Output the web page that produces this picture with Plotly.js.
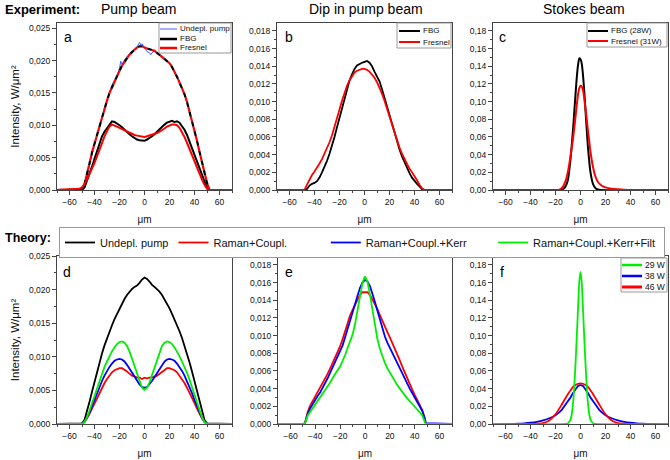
<!DOCTYPE html>
<html><head><meta charset="utf-8">
<script src="https://cdn.plot.ly/plotly-3.0.1.min.js"></script>
<style>html,body{margin:0;padding:0;background:#fff}#chart{width:670px;height:460px}</style>
</head><body><div id="chart"></div>
<script>
// ---------- Data (x in µm, y in W/µm²) ----------
// Panel a: Experiment, pump beam
const xA = [-70,-52,-50,-48,-46,-44,-42,-40,-38,-36,-34,-32,-30,-28,-26,-24,-22,-20,-18,-16,-14,-12,-10,-8,-6,-4,-2,0,2,4,6,8,10,12,14,16,18,20,22,24,26,28,30,32,34,36,38,40,42,44,46,48,50,52,70];
const yA_undeplDash = [0,0,0.0001,0.0009,0.0023,0.0041,0.0058,0.0072,0.0086,0.0100,0.0113,0.0126,0.0138,0.0150,0.0159,0.0168,0.0176,0.0184,0.0192,0.0198,0.0204,0.0209,0.0213,0.0217,0.0220,0.0222,0.0222,0.0220,0.0219,0.0218,0.0217,0.0215,0.0212,0.0209,0.0206,0.0202,0.0199,0.0196,0.0190,0.0183,0.0175,0.0166,0.0157,0.0148,0.0136,0.0122,0.0107,0.0092,0.0076,0.0059,0.0042,0.0026,0.0011,0,0];
const yA_fbg = [0,0,0,0.0004,0.0014,0.0026,0.0036,0.0048,0.0060,0.0073,0.0083,0.0090,0.0096,0.0102,0.0106,0.0105,0.0103,0.0100,0.0097,0.0093,0.0090,0.0086,0.0083,0.0080,0.0078,0.0077,0.0077,0.0076,0.0078,0.0080,0.0083,0.0086,0.0090,0.0094,0.0098,0.0101,0.0104,0.0105,0.0107,0.0105,0.0106,0.0104,0.0099,0.0093,0.0085,0.0075,0.0065,0.0055,0.0044,0.0033,0.0022,0.0012,0.0003,0,0];
const yA_fresnel = [0,0.0002,0.0004,0.0009,0.0016,0.0024,0.0033,0.0042,0.0052,0.0063,0.0073,0.0083,0.0091,0.0098,0.0101,0.0100,0.0098,0.0096,0.0094,0.0092,0.0090,0.0088,0.0086,0.0085,0.0084,0.0083,0.0083,0.0082,0.0083,0.0084,0.0085,0.0086,0.0088,0.0090,0.0092,0.0095,0.0098,0.0100,0.0101,0.0101,0.0100,0.0096,0.0090,0.0082,0.0073,0.0063,0.0053,0.0043,0.0034,0.0025,0.0016,0.0008,0.0002,0,0];
const xA_undepl = [-70,-50,-48,-46,-44,-42,-40,-38,-36,-34,-32,-30,-28,-26,-24,-22,-20,-19,-18,-17,-16,-14,-12,-10,-8,-6,-5,-4,-3,-2,0,2,4,5,6,8,10,12,14,16,18,20,22,24,26,28,30,32,34,36,38,40,42,44,46,48,50,52,70];
const yA_undepl = [0,0,0.0006,0.0020,0.0038,0.0056,0.0071,0.0086,0.0101,0.0114,0.0127,0.0139,0.0151,0.0162,0.0170,0.0177,0.0188,0.0199,0.0194,0.0198,0.0201,0.0206,0.0210,0.0215,0.0218,0.0221,0.0224,0.0228,0.0224,0.0226,0.0220,0.0214,0.0212,0.0209,0.0212,0.0215,0.0211,0.0209,0.0206,0.0202,0.0199,0.0196,0.0190,0.0183,0.0175,0.0166,0.0157,0.0148,0.0136,0.0122,0.0107,0.0092,0.0076,0.0059,0.0042,0.0026,0.0011,0,0];
const namesA = ['Undepl. pump','FBG','Fresnel'];

// Panel b: Experiment, dip in pump beam
const xB = [-70,-48,-46,-44,-42,-40,-38,-36,-34,-32,-30,-28,-26,-24,-22,-20,-18,-16,-14,-12,-10,-8,-6,-4,-2,0,2,4,6,8,10,12,14,16,18,20,22,24,26,28,30,32,34,36,38,40,42,44,46,48,70];
const yB_fbg = [0,0,0.0001,0.0005,0.0007,0.0008,0.0010,0.0014,0.0020,0.0026,0.0033,0.0041,0.0050,0.0060,0.0071,0.0082,0.0093,0.0104,0.0115,0.0124,0.0131,0.0137,0.0141,0.0143,0.0144,0.0145,0.0146,0.0144,0.0140,0.0134,0.0129,0.0123,0.0114,0.0104,0.0093,0.0083,0.0073,0.0063,0.0054,0.0046,0.0038,0.0031,0.0025,0.0019,0.0014,0.0010,0.0007,0.0004,0.0001,0,0];
const yB_fresnel = [0,0,0.0006,0.0012,0.0017,0.0021,0.0025,0.0030,0.0035,0.0041,0.0047,0.0054,0.0062,0.0071,0.0081,0.0091,0.0101,0.0110,0.0118,0.0124,0.0129,0.0133,0.0135,0.0136,0.0137,0.0137,0.0136,0.0134,0.0131,0.0127,0.0122,0.0116,0.0109,0.0101,0.0092,0.0083,0.0074,0.0065,0.0056,0.0048,0.0041,0.0035,0.0029,0.0024,0.0020,0.0016,0.0011,0.0006,0.0002,0,0];
const namesB = ['FBG','Fresnel'];

// Panel c: Experiment, Stokes beam
const xC_fbg = [-70,-16,-14,-12,-10,-8,-6,-5,-4,-3,-2,-1,0,1,2,3,4,5,6,8,10,12,14,16,70];
const yC_fbg = [0,0,0.001,0.004,0.012,0.035,0.068,0.088,0.108,0.127,0.141,0.149,0.148,0.143,0.130,0.112,0.090,0.068,0.048,0.020,0.007,0.002,0.0005,0,0];
const xC_fresnel = [-70,-18,-16,-14,-12,-10,-8,-6,-5,-4,-3,-2,-1,0,1,2,3,4,5,6,7,8,10,12,14,16,18,20,25,30,35,40,70];
const yC_fresnel = [0,0,0.001,0.004,0.010,0.021,0.038,0.058,0.070,0.083,0.096,0.108,0.115,0.118,0.117,0.113,0.104,0.092,0.080,0.067,0.055,0.043,0.026,0.015,0.009,0.006,0.004,0.003,0.0015,0.0008,0.0003,0,0];
const namesC = ['FBG (28W)','Fresnel (31W)'];

// Panel d: Theory, pump beam
const xD = [-70,-50,-48,-46,-44,-42,-40,-38,-36,-34,-32,-30,-28,-26,-24,-22,-20,-18,-16,-14,-12,-10,-8,-6,-4,-2,0,2,4,6,8,10,12,14,16,18,20,22,24,26,28,30,32,34,36,38,40,42,44,46,48,50,70];
const yD_undepl = [0,0.0001,0.0006,0.0018,0.0033,0.0048,0.0063,0.0078,0.0092,0.0105,0.0117,0.0128,0.0138,0.0147,0.0156,0.0164,0.0172,0.0179,0.0186,0.0192,0.0197,0.0201,0.0204,0.0206,0.0210,0.0215,0.0218,0.0216,0.0212,0.0207,0.0204,0.0201,0.0197,0.0192,0.0186,0.0179,0.0172,0.0164,0.0156,0.0147,0.0138,0.0128,0.0117,0.0105,0.0092,0.0078,0.0063,0.0048,0.0033,0.0018,0.0006,0.0001,0];
const yD_raman = [0,0,0.0003,0.0008,0.0015,0.0023,0.0031,0.0039,0.0047,0.0054,0.0061,0.0067,0.0072,0.0077,0.0080,0.0082,0.0083,0.0083,0.0081,0.0078,0.0075,0.0072,0.0071,0.0069,0.0069,0.0067,0.0069,0.0068,0.0069,0.0069,0.0070,0.0072,0.0075,0.0078,0.0081,0.0083,0.0083,0.0082,0.0080,0.0077,0.0072,0.0067,0.0061,0.0054,0.0047,0.0039,0.0031,0.0023,0.0015,0.0008,0.0003,0,0];
const yD_kerr = [0,0,0.0003,0.0009,0.0017,0.0026,0.0036,0.0046,0.0056,0.0064,0.0072,0.0079,0.0085,0.0090,0.0094,0.0096,0.0097,0.0096,0.0093,0.0088,0.0082,0.0076,0.0070,0.0064,0.0059,0.0055,0.0054,0.0055,0.0059,0.0064,0.0070,0.0076,0.0082,0.0088,0.0093,0.0096,0.0097,0.0096,0.0094,0.0090,0.0085,0.0079,0.0072,0.0064,0.0056,0.0046,0.0036,0.0026,0.0017,0.0009,0.0003,0,0];
const yD_filt = [0,0,0.0003,0.0010,0.0020,0.0031,0.0043,0.0055,0.0066,0.0076,0.0085,0.0093,0.0101,0.0108,0.0114,0.0119,0.0122,0.0123,0.0121,0.0116,0.0108,0.0097,0.0085,0.0073,0.0062,0.0054,0.0051,0.0054,0.0062,0.0073,0.0085,0.0097,0.0108,0.0116,0.0121,0.0123,0.0122,0.0119,0.0114,0.0108,0.0101,0.0093,0.0085,0.0076,0.0066,0.0055,0.0043,0.0031,0.0020,0.0010,0.0003,0,0];
const namesTheory = ['Undepl. pump','Raman+Coupl.','Raman+Coupl.+Kerr','Raman+Coupl.+Kerr+Filt'];

// Panel e: Theory, dip in pump beam
const xE = [-70,-49,-48,-46,-44,-42,-40,-38,-36,-34,-32,-30,-28,-26,-24,-22,-20,-18,-16,-14,-12,-10,-8,-6,-4,-2,0,2,4,6,8,10,12,14,16,18,20,22,24,26,28,30,32,34,36,38,40,42,44,46,48,49,70];
const yE_raman = [0,0,0.0003,0.0014,0.0021,0.0026,0.0031,0.0036,0.0041,0.0046,0.0051,0.0057,0.0063,0.0069,0.0076,0.0082,0.0088,0.0096,0.0106,0.0116,0.0123,0.0129,0.0135,0.0141,0.0146,0.0149,0.0149,0.0149,0.0146,0.0141,0.0135,0.0130,0.0123,0.0116,0.0110,0.0104,0.0098,0.0092,0.0085,0.0078,0.0072,0.0065,0.0058,0.0052,0.0045,0.0039,0.0033,0.0027,0.0022,0.0016,0.0006,0,0];
const yE_kerr = [0,0,0.0002,0.0012,0.0018,0.0023,0.0027,0.0032,0.0036,0.0041,0.0046,0.0052,0.0058,0.0064,0.0070,0.0076,0.0082,0.0089,0.0098,0.0108,0.0118,0.0127,0.0136,0.0145,0.0154,0.0160,0.0163,0.0161,0.0156,0.0148,0.0138,0.0128,0.0118,0.0108,0.0099,0.0092,0.0086,0.0080,0.0074,0.0068,0.0062,0.0057,0.0051,0.0046,0.0040,0.0035,0.0030,0.0025,0.0020,0.0015,0.0007,0.0001,0];
const yE_filt = [0,0,0.0002,0.0010,0.0014,0.0018,0.0022,0.0026,0.0030,0.0034,0.0038,0.0042,0.0047,0.0052,0.0057,0.0061,0.0065,0.0071,0.0078,0.0086,0.0093,0.0101,0.0113,0.0128,0.0145,0.0160,0.0167,0.0161,0.0146,0.0128,0.0110,0.0096,0.0085,0.0076,0.0069,0.0063,0.0058,0.0053,0.0048,0.0044,0.0040,0.0036,0.0032,0.0029,0.0026,0.0023,0.0020,0.0017,0.0014,0.0010,0.0003,0,0];

// Panel f: Theory, Stokes beam
const xF_29 = [-70,-12,-10,-8,-7,-6,-5,-4,-3,-2,-1,0,1,2,3,4,5,6,7,8,10,12,70];
const yF_29 = [0,0,0.001,0.005,0.011,0.023,0.042,0.068,0.098,0.130,0.160,0.172,0.160,0.130,0.098,0.068,0.042,0.023,0.011,0.005,0.001,0,0];
const xF_38 = [-70,-55,-50,-45,-40,-35,-30,-25,-20,-15,-10,-8,-6,-4,-2,0,2,4,6,8,10,15,20,25,30,35,40,45,50,55,70];
const yF_38 = [0,0,0.0003,0.0008,0.0015,0.0025,0.004,0.0065,0.010,0.016,0.026,0.030,0.035,0.039,0.043,0.044,0.043,0.039,0.035,0.030,0.026,0.016,0.010,0.0065,0.004,0.0025,0.0015,0.0008,0.0003,0,0];
const xF_46 = [-70,-40,-35,-30,-25,-20,-15,-10,-8,-6,-4,-2,0,2,4,6,8,10,15,20,25,30,35,40,70];
const yF_46 = [0,0,0.0003,0.001,0.004,0.011,0.022,0.034,0.038,0.042,0.044,0.0455,0.046,0.0455,0.044,0.042,0.038,0.034,0.022,0.011,0.004,0.001,0.0003,0,0];
const namesF = ['29 W','38 W','46 W'];

const panelTitles = ['Pump beam','Dip in pump beam','Stokes beam'];
const rowTitles = ['Experiment:','Theory:'];
const panelLetters = ['a','b','c','d','e','f'];
const xTitle = 'μm';
const yTitle = 'Intensity, W/μm²';

// ---------- Layout helpers ----------
const W = 670, H = 460;
const FONT = 'Liberation Sans, Arial, Helvetica, sans-serif';
const px = v => v / W;
const py = v => 1 - v / H;
const BLACK = '#000000', RED = '#ff0000', BLUE = '#0000ff', GREEN = '#00ee00', LBLUE = '#4a5cff';
const NB = n => '\u00A0'.repeat(n);   // spacing for the horizontal theory legend

function xAxis(d0, d1, anchor) {
  return {
    domain: [px(d0), px(d1)], anchor: anchor, range: [-70, 70], tick0: 0, dtick: 20,
    ticks: 'outside', ticklen: 4, tickwidth: 1, tickcolor: '#444',
    minor: {dtick: 10, tick0: 0, ticks: 'outside', ticklen: 2, tickwidth: 1, tickcolor: '#444'},
    showline: true, linecolor: '#444', linewidth: 1, mirror: true,
    showgrid: false, zeroline: false,
    tickfont: {size: 8.5, color: '#111', family: FONT},
    title: {text: xTitle, font: {size: 10, color: '#111', family: FONT}, standoff: 9}
  };
}
function yAxis(top, bottom, anchor, max, dtick, fmt, withTitle) {
  const a = {
    domain: [py(bottom), py(top)], anchor: anchor, range: [0, max], tick0: 0, dtick: dtick,
    tickformat: fmt,
    ticks: 'outside', ticklen: 4, tickwidth: 1, tickcolor: '#444',
    minor: {dtick: dtick / 2, tick0: 0, ticks: 'outside', ticklen: 2, tickwidth: 1, tickcolor: '#444'},
    showline: true, linecolor: '#444', linewidth: 1, mirror: true,
    showgrid: false, zeroline: false,
    tickfont: {size: 8.5, color: '#111', family: FONT}
  };
  if (withTitle) a.title = {text: yTitle, font: {size: 11.5, color: '#111', family: FONT}, standoff: 6};
  return a;
}

const traces = [];
function line(x, y, xa, ya, color, width, extra) {
  const t = Object.assign({x: x, y: y, xaxis: xa, yaxis: ya, mode: 'lines',
    line: {color: color, width: width}, showlegend: false, hoverinfo: 'skip'}, extra || {});
  traces.push(t);
}

// Panel a
line(xA_undepl, yA_undepl, 'x', 'y', LBLUE, 1, {name: namesA[0]});
line(xA, yA_undeplDash, 'x', 'y', BLACK, 2, {line: {color: BLACK, width: 2.2, dash: '5px,5px'}});
line(xA, yA_undeplDash, 'x', 'y', RED, 2, {line: {color: RED, width: 2.2, dash: '0px,5px,5px,0px'}});
line(xA, yA_fbg, 'x', 'y', BLACK, 2, {name: namesA[1]});
line(xA, yA_fresnel, 'x', 'y', RED, 2, {name: namesA[2]});
// Panel b
line(xB, yB_fbg, 'x2', 'y2', BLACK, 1.8, {name: namesB[0]});
line(xB, yB_fresnel, 'x2', 'y2', RED, 1.8, {name: namesB[1]});
// Panel c
line(xC_fbg, yC_fbg, 'x3', 'y3', BLACK, 2, {name: namesC[0], line: {color: BLACK, width: 2, shape: 'spline', smoothing: 0.6}});
line(xC_fresnel, yC_fresnel, 'x3', 'y3', RED, 2, {name: namesC[1], line: {color: RED, width: 2, shape: 'spline', smoothing: 0.6}});
// Panel d (drives the shared Theory legend; padded names reproduce the column spacing)
line(xD, yD_undepl, 'x4', 'y4', BLACK, 1.8, {name: namesTheory[0], showlegend: true});
line(xD, yD_raman, 'x4', 'y4', RED, 1.8, {name: namesTheory[1] + NB(11), showlegend: true});
line(xD, yD_kerr, 'x4', 'y4', BLUE, 1.8, {name: namesTheory[2] + NB(7), showlegend: true});
line(xD, yD_filt, 'x4', 'y4', GREEN, 1.8, {name: namesTheory[3] + NB(1), showlegend: true});
// Panel e
line(xE, yE_raman, 'x5', 'y5', RED, 1.8, {name: namesTheory[1]});
line(xE, yE_kerr, 'x5', 'y5', BLUE, 1.8, {name: namesTheory[2]});
line(xE, yE_filt, 'x5', 'y5', GREEN, 1.8, {name: namesTheory[3]});
// Panel f
line(xF_38, yF_38, 'x6', 'y6', BLUE, 1.8, {name: namesF[1], line: {color: BLUE, width: 1.8, shape: 'spline', smoothing: 0.6}});
line(xF_46, yF_46, 'x6', 'y6', RED, 1.8, {name: namesF[2], line: {color: RED, width: 1.8, shape: 'spline', smoothing: 0.6}});
line(xF_29, yF_29, 'x6', 'y6', GREEN, 1.8, {name: namesF[0], line: {color: GREEN, width: 1.8, shape: 'spline', smoothing: 0.6}});

// ---------- Annotations / in-panel legend keys ----------
const annotations = [];
const shapes = [];
function txt(text, x, y, size, opts) {
  annotations.push(Object.assign({text: text, x: px(x), y: py(y), xref: 'paper', yref: 'paper',
    showarrow: false, xanchor: 'center', yanchor: 'middle',
    font: {size: size, color: '#000', family: FONT}}, opts || {}));
}
txt(rowTitles[0], 3, 9, 13, {xanchor: 'left', font: {size: 13, color: '#000', family: FONT, weight: 700}});
txt(rowTitles[1], 3, 238, 12.5, {xanchor: 'left', font: {size: 12.5, color: '#000', family: FONT, weight: 700}});
txt(panelTitles[0], 138, 9, 14);
txt(panelTitles[1], 366, 9, 14);
txt(panelTitles[2], 584, 9, 14);
[[68,37],[289,37],[502,37],[67,272],[289,272],[502,272]].forEach((p, i) => txt(panelLetters[i], p[0], p[1], 14));

function keyBox(x0, y0, x1, y1, items, lx0, lx1, tx, size) {
  shapes.push({type: 'rect', xref: 'paper', yref: 'paper', x0: px(x0), x1: px(x1), y0: py(y0), y1: py(y1),
    line: {color: '#999', width: 1}, fillcolor: '#fff', layer: 'above'});
  items.forEach(it => {
    shapes.push({type: 'line', xref: 'paper', yref: 'paper', x0: px(lx0), x1: px(lx1), y0: py(it.y), y1: py(it.y),
      line: {color: it.color, width: it.w}, layer: 'above'});
    txt(it.text, tx, it.y, size, {xanchor: 'left', font: {size: size, color: '#111', family: FONT}});
  });
}
keyBox(159, 23, 231, 53, [
  {text: namesA[0], color: LBLUE, w: 1, y: 29},
  {text: namesA[1], color: BLACK, w: 2.5, y: 39},
  {text: namesA[2], color: RED, w: 2.5, y: 48}], 160, 177, 178, 8);
keyBox(397, 23, 451, 48, [
  {text: namesB[0], color: BLACK, w: 2, y: 31},
  {text: namesB[1], color: RED, w: 2, y: 42}], 399, 420, 421, 8);
keyBox(587, 23, 667, 47, [
  {text: namesC[0], color: BLACK, w: 2, y: 31},
  {text: namesC[1], color: RED, w: 2, y: 41}], 588, 608, 609, 8);
keyBox(621, 258, 667, 292, [
  {text: namesF[0], color: GREEN, w: 2.5, y: 265},
  {text: namesF[1], color: BLUE, w: 2.5, y: 276},
  {text: namesF[2], color: RED, w: 3, y: 287}], 622, 642, 643, 8.5);

const layout = {
  width: W, height: H, margin: {l: 0, r: 0, t: 0, b: 0},
  paper_bgcolor: '#fff', plot_bgcolor: 'rgba(0,0,0,0)',
  separators: ', ',
  font: {family: FONT, color: '#111'},
  showlegend: true,
  legend: {orientation: 'h', x: px(59), xanchor: 'left', y: py(227), yanchor: 'top',
    bordercolor: '#999', borderwidth: 1, bgcolor: '#fff',
    font: {size: 11, color: '#111', family: FONT}, itemwidth: 30, traceorder: 'normal'},
  xaxis: xAxis(57, 232, 'y'),   yaxis: yAxis(23, 190, 'x', 0.0258, 0.005, '.3f', true),
  xaxis2: xAxis(277, 452, 'y2'), yaxis2: yAxis(23, 190, 'x2', 0.0189, 0.002, '.3f', false),
  xaxis3: xAxis(493, 668, 'y3'), yaxis3: yAxis(23, 190, 'x3', 0.189, 0.02, '.2f', false),
  xaxis4: xAxis(57, 232, 'y4'),  yaxis4: yAxis(256, 424, 'x4', 0.025, 0.005, '.3f', true),
  xaxis5: xAxis(278, 452, 'y5'), yaxis5: yAxis(256, 424, 'x5', 0.019, 0.002, '.3f', false),
  xaxis6: xAxis(493, 668, 'y6'), yaxis6: yAxis(256, 424, 'x6', 0.19, 0.02, '.2f', false),
  annotations: annotations, shapes: shapes
};

Plotly.newPlot('chart', traces, layout, {staticPlot: true, displayModeBar: false});
</script></body></html>
